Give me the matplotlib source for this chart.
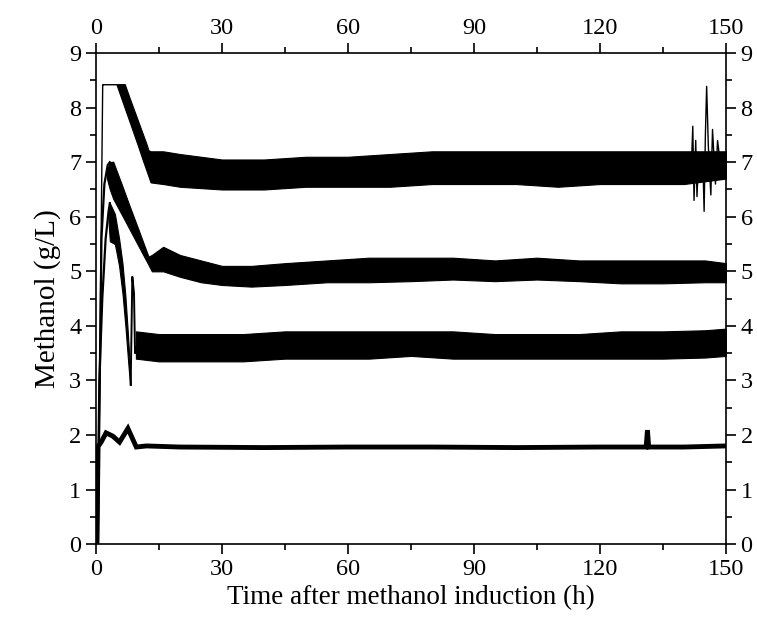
import matplotlib
matplotlib.use("Agg")
import matplotlib.pyplot as plt
from matplotlib.ticker import MultipleLocator

plt.rcParams['font.family'] = ['Liberation Serif', 'DejaVu Serif']

# --- trace A (top, ~7 g/L) ---
a_rise_t = [0.6, 1.0, 1.6, 1.7, 6.9]
a_rise_v = [0.0, 4.0, 8.42, 8.42, 8.42]
a_t = [4.9, 6.9, 8, 9, 10, 11, 12, 12.5, 13, 16, 20, 30, 40, 50, 60, 70, 80, 90,
       100, 110, 120, 130, 140, 150]
a_hi = [8.42, 8.42, 8.18, 7.97, 7.76, 7.55, 7.34, 7.22, 7.2, 7.2, 7.15, 7.05, 7.05,
        7.1, 7.1, 7.15, 7.2, 7.2, 7.2, 7.2, 7.2, 7.2, 7.2, 7.2]
a_lo = [8.42, 7.98, 7.74, 7.52, 7.3, 7.07, 6.85, 6.74, 6.63, 6.6, 6.55, 6.5, 6.5,
        6.55, 6.55, 6.55, 6.6, 6.6, 6.6, 6.55, 6.6, 6.6, 6.6, 6.7]
a_tail_t = [140, 141.8, 142.1, 142.4, 142.8, 143.1, 143.5, 144.5, 144.8, 145.1, 145.4,
            145.8, 146.4, 146.8, 147.5, 148, 149, 150]
a_tail_v = [6.9, 7.0, 7.66, 6.3, 7.4, 6.37, 7.1, 7.0, 6.1, 7.5, 8.39, 7.3, 6.4, 7.6,
            6.6, 7.4, 6.75, 7.15]

# --- trace B (~5 g/L) ---
b_rise_t = [0.4, 0.9, 1.3, 2.0, 2.8, 3.3]
b_rise_v = [0.0, 3.0, 5.6, 6.6, 6.95, 7.0]
b_t = [2.6, 3.3, 4.1, 6, 8, 10, 12.5, 13.3, 16, 20, 25, 30, 37, 45, 55, 65, 75, 85,
       95, 105, 115, 125, 135, 145, 150]
b_hi = [6.85, 7.0, 7.01, 6.62, 6.2, 5.79, 5.27, 5.3, 5.45, 5.3, 5.2, 5.1, 5.1, 5.15,
        5.2, 5.25, 5.25, 5.25, 5.2, 5.25, 5.2, 5.2, 5.2, 5.2, 5.15]
b_lo = [6.7, 6.5, 6.33, 6.06, 5.77, 5.48, 5.12, 5.0, 5.0, 4.9, 4.8, 4.75, 4.72, 4.75,
        4.8, 4.8, 4.82, 4.85, 4.82, 4.85, 4.82, 4.78, 4.78, 4.8, 4.8]

# --- trace C (~3.6 g/L) ---
c_rise_t = [0.3, 0.8, 1.5, 2.3, 3.0, 3.3]
c_rise_v = [0.0, 3.0, 4.5, 5.6, 6.1, 6.25]
c_t = [3.0, 3.3, 4.5, 5.5, 6.3, 7.0, 7.6, 8.1, 8.3]
c_hi = [6.1, 6.25, 6.05, 5.6, 5.15, 4.55, 3.85, 3.2, 2.92]
c_lo = [5.9, 5.55, 5.5, 5.1, 4.6, 4.0, 3.4, 2.92, 2.92]
c_spike_t = [8.26, 8.65, 9.05, 9.3, 9.6]
c_spike_v = [2.92, 4.9, 4.6, 3.5, 3.6]
c2_t = [9.5, 15, 25, 35, 45, 55, 65, 75, 85, 95, 105, 115, 125, 135, 145, 150]
c2_hi = [3.9, 3.85, 3.85, 3.85, 3.9, 3.9, 3.9, 3.9, 3.9, 3.85, 3.85, 3.85, 3.9, 3.9,
         3.92, 3.95]
c2_lo = [3.4, 3.35, 3.35, 3.35, 3.4, 3.4, 3.4, 3.45, 3.4, 3.4, 3.4, 3.4, 3.4, 3.4,
         3.42, 3.45]

# --- trace D (~1.8 g/L) ---
d_t = [0.2, 0.5, 1.3, 2.4, 4, 5.6, 7.6, 9.6, 12, 20, 40, 60, 80, 100, 120, 131.0,
       131.3, 131.6, 140, 150]
d_v = [0.0, 1.79, 1.88, 2.04, 1.98, 1.87, 2.12, 1.78, 1.8, 1.78, 1.77, 1.78, 1.78,
       1.77, 1.78, 1.78, 2.09, 1.78, 1.78, 1.8]

fig = plt.figure(figsize=(7.57, 6.32), dpi=100)
ax = fig.add_axes([0.1268, 0.139, 0.8322, 0.777])

k = 'black'
ax.plot(a_rise_t, a_rise_v, color=k, lw=1.0)
ax.fill_between(a_t, a_lo, a_hi, color=k, lw=0.8, edgecolor=k)
ax.plot(a_tail_t, a_tail_v, color=k, lw=1.0)

ax.plot(b_rise_t, b_rise_v, color=k, lw=1.6)
ax.fill_between(b_t, b_lo, b_hi, color=k, lw=0.8, edgecolor=k)

ax.plot(c_rise_t, c_rise_v, color=k, lw=1.6)
ax.fill_between(c_t, c_lo, c_hi, color=k, lw=0.8, edgecolor=k)
ax.plot(c_spike_t, c_spike_v, color=k, lw=1.4)
ax.fill_between(c2_t, c2_lo, c2_hi, color=k, lw=0.8, edgecolor=k)

ax.plot(d_t, d_v, color=k, lw=3.5, solid_joinstyle='miter')

ax.set_xlim(0, 150)
ax.set_ylim(0, 9)
ax.xaxis.set_major_locator(MultipleLocator(30))
ax.xaxis.set_minor_locator(MultipleLocator(15))
ax.yaxis.set_major_locator(MultipleLocator(1))
ax.yaxis.set_minor_locator(MultipleLocator(0.5))

ax.tick_params(which='both', direction='out', labelsize=17.5, width=1.2,
               top=True, right=True, labeltop=True, labelright=True)
ax.tick_params(which='major', length=7)
ax.tick_params(which='minor', length=4)
for s in ax.spines.values():
    s.set_linewidth(1.2)

ax.set_xlabel("Time after methanol induction (h)", fontsize=19.5, labelpad=4)
ax.set_ylabel("Methanol (g/L)", fontsize=21, labelpad=6)

fig.savefig("out.png", dpi=100)
